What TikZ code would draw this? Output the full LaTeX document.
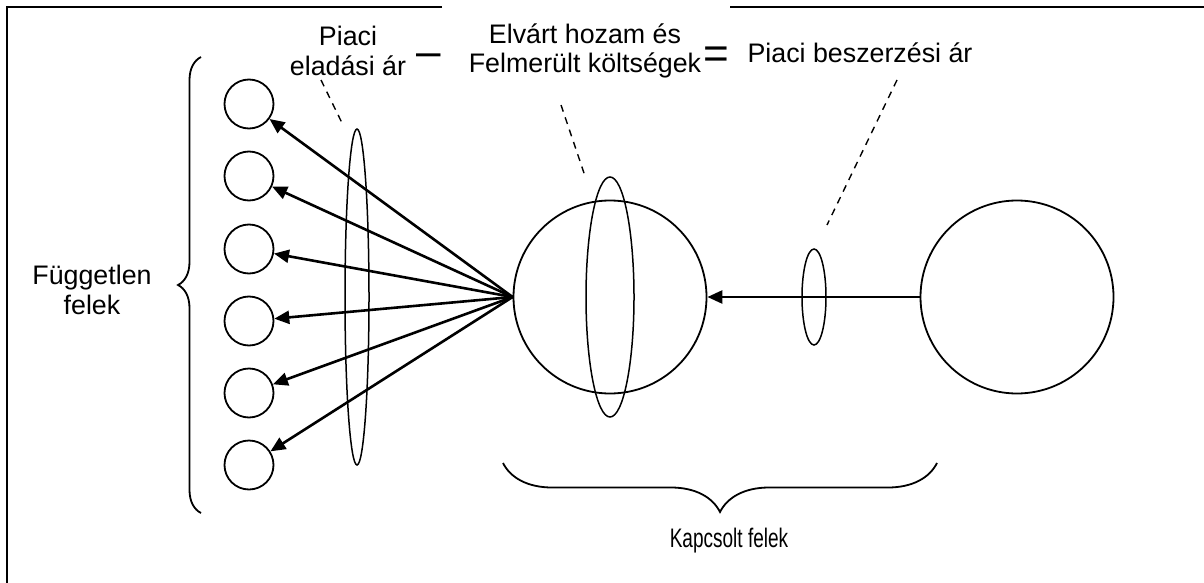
\documentclass[tikz,border=0pt]{standalone}
\usepackage{fontspec}
\usepackage{graphicx}
\setmainfont{Liberation Sans}
\usetikzlibrary{arrows.meta,decorations.pathreplacing}

\tikzset{
  party/.style={circle, draw, line width=0.9pt, inner sep=0pt, minimum size=24.5pt},
  firm/.style={circle, draw, line width=0.9pt, inner sep=0pt, minimum size=96.5pt},
  flow/.style={line width=1.3pt, -{Triangle[length=7.5pt,width=6.5pt]}},
  pointer/.style={line width=0.7pt, dash pattern=on 3.5pt off 3pt},
  lens/.style={line width=0.75pt},
  bracket/.style={decorate, line width=0.9pt},
  lbl/.style={align=center, inner sep=0pt, font=\fontsize{13.4}{14.6}\selectfont},
  sign/.style={inner sep=0pt, font=\fontsize{22}{22}\selectfont},
}

\begin{document}
\begin{tikzpicture}[x=0.5pt, y=-0.5pt]
  \useasboundingbox (0,0) rectangle (1204,583);

  % frame, cut off at the right and at the bottom
  \draw[line width=1pt] (442,7) -- (7,7) -- (7,583);
  \draw[line width=1pt] (730,7) -- (1204,7);

  \foreach \i/\y in {1/104, 2/176, 3/249, 4/321, 5/393, 6/465}
    \node[party] (p\i) at (249,\y) {};
  \node[firm] (buyer)  at (610,297) {};
  \node[firm] (seller) at (1017,297) {};

  \draw[lens] (357,297) ellipse (6pt and 84pt);
  \draw[lens] (610,297) ellipse (12pt and 60pt);
  \draw[lens] (814,297) ellipse (6pt and 24pt);

  \foreach \i in {1,...,6}
    \draw[flow] (buyer.west) -- (p\i);
  \draw[flow] (seller.west) -- (buyer.east);

  \draw[pointer] (321,80) -- (343,125);
  \draw[pointer] (561,105) -- (585,176);
  \draw[pointer] (897,80) -- (827,225);

  \draw[bracket, decoration={brace, amplitude=11.5pt}] (201,513) -- (201,57);
  \draw[bracket, decoration={brace, amplitude=24.5pt}] (937,463) -- (503,463);

  \node[lbl] (indep) at (92,290) {Független\\felek};
  \node[lbl, anchor=base] (related) at (729,547)
    {\scalebox{0.71}[1]{Kapcsolt felek}};

  \node[lbl] (sale) at (348,51) {Piaci\\eladási ár};
  \node[sign] (minus) at (429,60) {–};
  \node[lbl] (cost) at (585,51) {Elvárt hozam és\\Felmerült költségek};
  \node[sign] (equals) at (716,58) {=};
  \node[lbl, anchor=base] (purchase) at (860,63) {Piaci beszerzési ár};
\end{tikzpicture}
\end{document}
